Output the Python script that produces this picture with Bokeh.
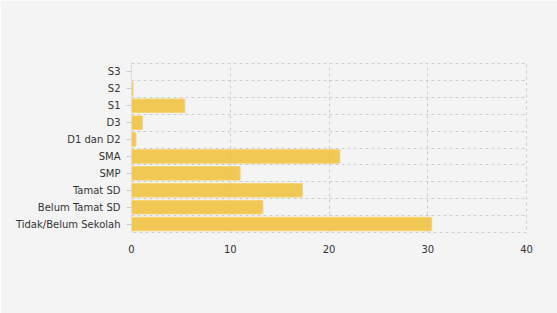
from bokeh.plotting import figure
from bokeh.models import FactorRange, Range1d, FixedTicker, ColumnDataSource
from bokeh.embed import file_html
from bokeh.resources import INLINE

categories = ["Tidak/Belum Sekolah", "Belum Tamat SD", "Tamat SD", "SMP", "SMA",
              "D1 dan D2", "D3", "S1", "S2", "S3"]
values = [30.4, 13.3, 17.3, 11.0, 21.1, 0.45, 1.1, 5.4, 0.15, 0.0]
x_ticks = [0, 10, 20, 30, 40]

src = ColumnDataSource(dict(cat=categories, val=values))

p = figure(width=557, height=313, output_backend="svg", toolbar_location=None,
           y_range=FactorRange(factors=categories, range_padding=0),
           x_range=Range1d(0, 40),
           min_border_left=131, min_border_right=31, min_border_top=63, min_border_bottom=81)
p.background_fill_color = "#f4f4f4"
p.border_fill_color = "#f4f4f4"
p.outline_line_color = "#cccccc"
p.outline_line_dash = "3 3"

p.hbar(y="cat", right="val", left=0, height=0.8, source=src,
       fill_color="#efc13c", fill_alpha=0.88, line_color="#f5d272", line_width=1)

font = "DejaVu Sans"
for ax in (p.xaxis, p.yaxis):
    ax.major_label_text_font = font
    ax.major_label_text_font_size = "10px"
    ax.major_label_text_color = "#333333"
    ax.minor_tick_line_color = None

p.xaxis.ticker = FixedTicker(ticks=x_ticks)
p.xaxis.axis_line_color = None
p.xaxis.major_tick_line_color = None
p.xaxis.major_label_standoff = 6

p.yaxis.axis_line_color = "#dddddd"
p.yaxis.major_tick_line_color = "#cccccc"
p.yaxis.major_tick_in = 0
p.yaxis.major_tick_out = 5
p.yaxis.major_label_standoff = 6

p.xgrid.ticker = FixedTicker(ticks=x_ticks)
p.xgrid.grid_line_color = "#cccccc"
p.xgrid.grid_line_dash = "3 3"
p.ygrid.ticker = FixedTicker(ticks=list(range(len(categories) + 1)))
p.ygrid.grid_line_color = "#cccccc"
p.ygrid.grid_line_dash = "3 3"

open("out.html", "w").write(file_html(p, INLINE))
